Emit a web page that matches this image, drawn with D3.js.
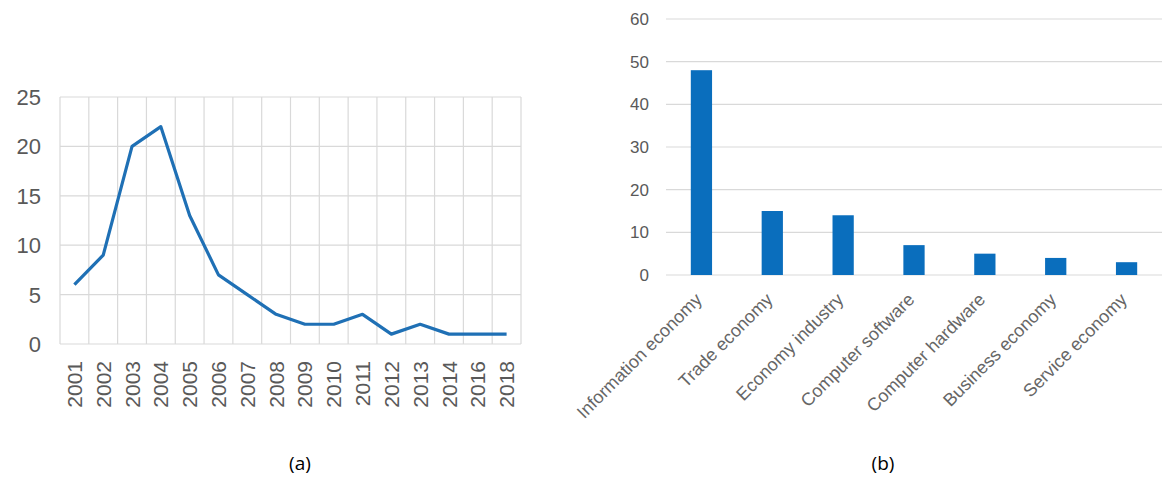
<!DOCTYPE html>
<html>
<head>
<meta charset="utf-8">
<script src="https://cdn.jsdelivr.net/npm/d3@7"></script>
<style>
  body { margin: 0; background: #fff; }
  svg { display: block; }
</style>
</head>
<body>
<svg width="1162" height="477"></svg>
<script>
const years = ['2001', '2002', '2003', '2004', '2005', '2006', '2007', '2008', '2009', '2010', '2011', '2012', '2013', '2014', '2016', '2018']
const counts = [6, 9, 20, 22, 13, 7, 5, 3, 2, 2, 3, 1, 2, 1, 1, 1]
const yTicksA = [0, 5, 10, 15, 20, 25]

const topics = ['Information economy', 'Trade economy', 'Economy industry', 'Computer software', 'Computer hardware', 'Business economy', 'Service economy']
const topicCounts = [48, 15, 14, 7, 5, 4, 3]
const yTicksB = [0, 10, 20, 30, 40, 50, 60]

const svg = d3.select('svg')
const gridColor = '#d9d9d9'
const textColor = '#595959'

// ---- chart (a): line
const xA = d3.scaleBand()
  .domain(years)
  .range([60, 521])

const yA = d3.scaleLinear()
  .domain([0, 25])
  .range([344, 97])

const gA = svg.append('g')

// horizontal grid
gA.selectAll('line.h')
  .data(yTicksA)
  .enter().append('line')
  .attr('class', 'h')
  .attr('x1', xA.range()[0])
  .attr('x2', xA.range()[1])
  .attr('y1', d => yA(d))
  .attr('y2', d => yA(d))
  .attr('stroke', gridColor)
  .attr('stroke-width', 1.2)

// vertical grid at band edges
const edges = years.map(d => xA(d)).concat([xA.range()[1]])
gA.selectAll('line.v')
  .data(edges)
  .enter().append('line')
  .attr('class', 'v')
  .attr('x1', d => d)
  .attr('x2', d => d)
  .attr('y1', yA(25))
  .attr('y2', yA(0))
  .attr('stroke', gridColor)
  .attr('stroke-width', 1.2)

// y labels
gA.selectAll('text.yl')
  .data(yTicksA)
  .enter().append('text')
  .attr('class', 'yl')
  .attr('x', 41)
  .attr('y', d => yA(d))
  .attr('dy', '0.36em')
  .attr('text-anchor', 'end')
  .style('font-family', 'Liberation Sans, Arial, sans-serif')
  .style('font-size', '22px')
  .attr('fill', textColor)
  .text(d => d)

// x labels, rotated
gA.selectAll('text.xl')
  .data(years)
  .enter().append('text')
  .attr('class', 'xl')
  .attr('transform', d => `translate(${xA(d) + xA.bandwidth() / 2},361) rotate(-90)`)
  .attr('dy', '0.36em')
  .attr('text-anchor', 'end')
  .style('font-family', 'Liberation Sans, Arial, sans-serif')
  .style('font-size', '21px')
  .attr('fill', textColor)
  .text(d => d)

const line = d3.line()
  .x((d, i) => xA(years[i]) + xA.bandwidth() / 2)
  .y(d => yA(d))

gA.append('path')
  .datum(counts)
  .attr('d', line)
  .attr('fill', 'none')
  .attr('stroke', '#1f70b5')
  .attr('stroke-width', 3.2)
  .attr('stroke-linejoin', 'round')

// ---- chart (b): bars
const xB = d3.scaleBand()
  .domain(topics)
  .range([666, 1162])

const yB = d3.scaleLinear()
  .domain([0, 60])
  .range([275, 19])

const gB = svg.append('g')

gB.selectAll('line.h')
  .data(yTicksB)
  .enter().append('line')
  .attr('x1', 666)
  .attr('x2', 1162)
  .attr('y1', d => yB(d))
  .attr('y2', d => yB(d))
  .attr('stroke', gridColor)
  .attr('stroke-width', 1.2)

gB.selectAll('text.yl')
  .data(yTicksB)
  .enter().append('text')
  .attr('x', 649)
  .attr('y', d => yB(d))
  .attr('dy', '0.36em')
  .attr('text-anchor', 'end')
  .style('font-family', 'Liberation Sans, Arial, sans-serif')
  .style('font-size', '17px')
  .attr('fill', textColor)
  .text(d => d)

const barW = xB.bandwidth() * 0.3
gB.selectAll('rect')
  .data(topicCounts)
  .enter().append('rect')
  .attr('x', (d, i) => xB(topics[i]) + xB.bandwidth() / 2 - barW / 2)
  .attr('y', d => yB(d))
  .attr('width', barW)
  .attr('height', d => yB(0) - yB(d))
  .attr('fill', '#0a6ebd')

gB.selectAll('text.xl')
  .data(topics)
  .enter().append('text')
  .attr('transform', d => `translate(${xB(d) + xB.bandwidth() / 2 - 3},296) rotate(-45)`)
  .attr('dy', '0.36em')
  .attr('text-anchor', 'end')
  .style('font-family', 'Liberation Sans, Arial, sans-serif')
  .style('font-size', '18px')
  .attr('fill', '#666')
  .text(d => d)

// ---- captions
svg.selectAll('text.cap')
  .data(['(a)', '(b)'])
  .enter().append('text')
  .attr('x', (d, i) => i === 0 ? 300 : 883)
  .attr('y', 470)
  .attr('text-anchor', 'middle')
  .style('font-family', 'Open Sans, sans-serif')
  .style('font-size', '19px')
  .attr('fill', '#000')
  .text(d => d)
</script>
</body>
</html>
